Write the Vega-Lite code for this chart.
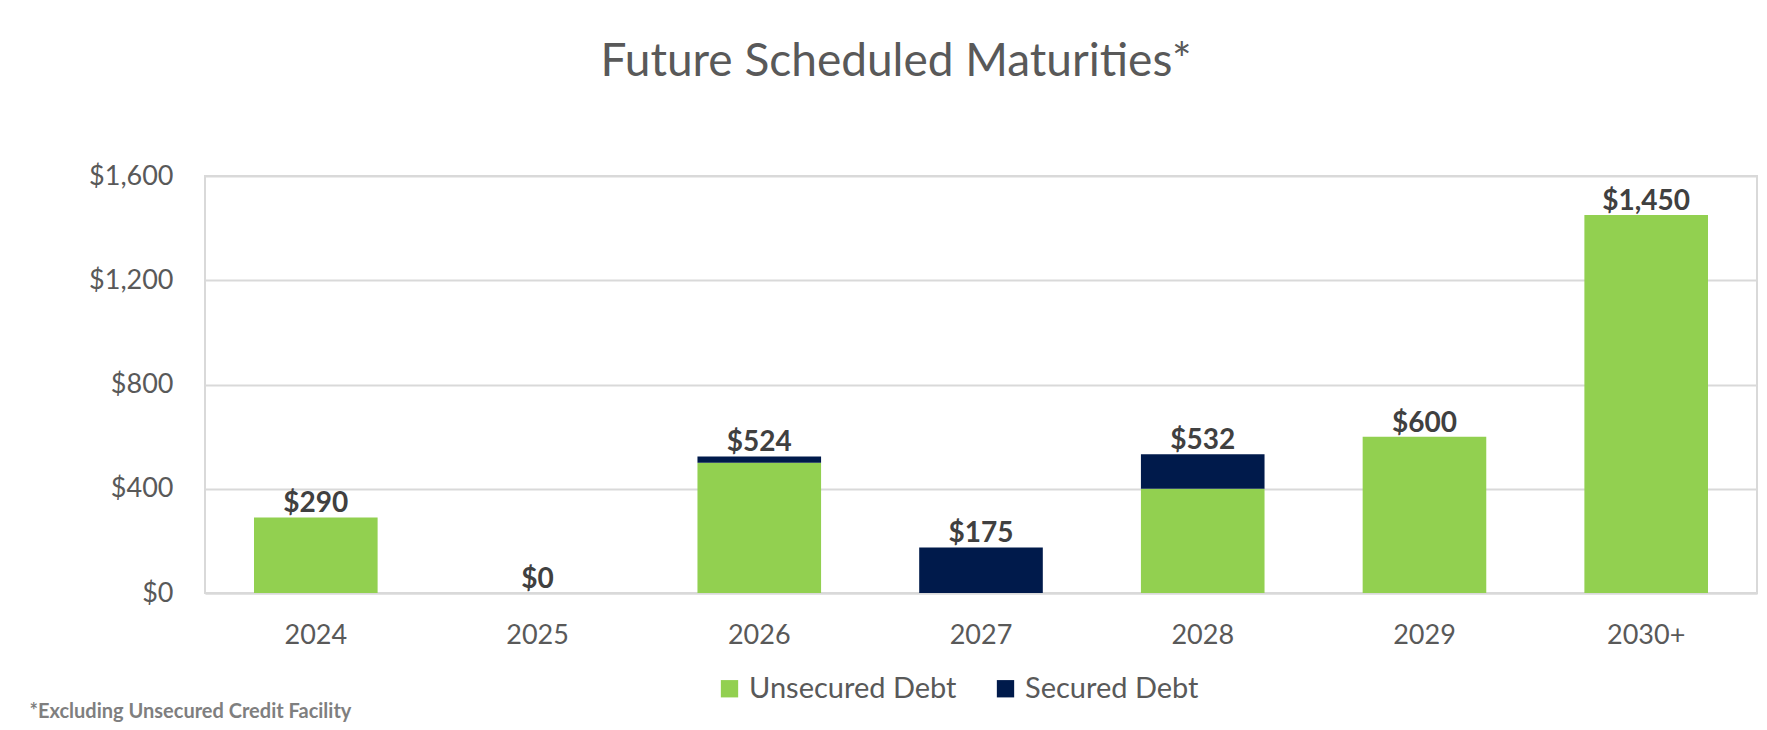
{
  "$schema": "https://vega.github.io/schema/vega-lite/v6.json",
  "width": 1552,
  "height": 417,
  "autosize": {"type": "none"},
  "padding": {"left": 205, "top": 176, "right": 10, "bottom": 137},
  "background": "white",
  "title": {
    "text": "Future Scheduled Maturities*",
    "font": "Lato",
    "fontSize": 46,
    "fontWeight": "normal",
    "color": "#595959",
    "anchor": "middle",
    "dx": -85,
    "baseline": "alphabetic",
    "offset": 40
  },
  "config": {
    "view": {"stroke": "#D9D9D9", "strokeWidth": 2},
    "font": "Lato"
  },
  "data": {
    "values": [
      {"year": "2024", "type": "Unsecured Debt", "value": 290},
      {"year": "2024", "type": "Secured Debt", "value": 0},
      {"year": "2025", "type": "Unsecured Debt", "value": 0},
      {"year": "2025", "type": "Secured Debt", "value": 0},
      {"year": "2026", "type": "Unsecured Debt", "value": 500},
      {"year": "2026", "type": "Secured Debt", "value": 24},
      {"year": "2027", "type": "Unsecured Debt", "value": 0},
      {"year": "2027", "type": "Secured Debt", "value": 175},
      {"year": "2028", "type": "Unsecured Debt", "value": 400},
      {"year": "2028", "type": "Secured Debt", "value": 132},
      {"year": "2029", "type": "Unsecured Debt", "value": 600},
      {"year": "2029", "type": "Secured Debt", "value": 0},
      {"year": "2030+", "type": "Unsecured Debt", "value": 1450},
      {"year": "2030+", "type": "Secured Debt", "value": 0}
    ]
  },
  "encoding": {
    "x": {
      "field": "year",
      "type": "nominal",
      "sort": null,
      "scale": {"paddingInner": 0.4425, "paddingOuter": 0.221},
      "axis": {
        "title": "*Excluding Unsecured Credit Facility",
        "titleX": -176,
        "titleY": 118,
        "titleAlign": "left",
        "titleAnchor": "start",
        "titleBaseline": "middle",
        "titleFont": "Lato",
        "titleFontSize": 20,
        "titleFontWeight": "bold",
        "titleColor": "#7F7F7F",
        "labelAngle": 0,
        "labelFont": "Lato",
        "labelFontSize": 27,
        "labelColor": "#595959",
        "labelPadding": 29,
        "ticks": false,
        "domainColor": "#D9D9D9",
        "domainWidth": 2
      }
    }
  },
  "layer": [
    {
      "mark": {"type": "bar"},
      "encoding": {
        "y": {
          "field": "value",
          "type": "quantitative",
          "aggregate": "sum",
          "stack": "zero",
          "scale": {"domain": [0, 1600], "nice": false},
          "axis": {
            "title": null,
            "values": [0, 400, 800, 1200, 1600],
            "format": "$,.0f",
            "labelFont": "Lato",
            "labelFontSize": 27,
            "labelColor": "#595959",
            "labelPadding": 32,
            "ticks": false,
            "domain": false,
            "gridColor": "#D9D9D9",
            "gridWidth": 2
          }
        },
        "color": {
          "field": "type",
          "type": "nominal",
          "scale": {"domain": ["Unsecured Debt", "Secured Debt"], "range": ["#92D050", "#001A4B"]},
          "legend": {
            "title": null,
            "orient": "none",
            "direction": "horizontal",
            "legendX": 510,
            "legendY": 498,
            "symbolType": "square",
            "symbolSize": 300,
            "symbolStrokeWidth": 0,
            "labelFont": "Lato",
            "labelFontSize": 29,
            "labelColor": "#595959",
            "labelOffset": 5,
            "labelLimit": 0,
            "columnPadding": 34
          }
        },
        "order": {"field": "type", "sort": "descending"}
      }
    },
    {
      "transform": [
        {"aggregate": [{"op": "sum", "field": "value", "as": "total"}], "groupby": ["year"]}
      ],
      "mark": {"type": "text", "baseline": "alphabetic", "dy": -5, "font": "Lato", "fontSize": 28, "fontWeight": "bold", "color": "#404040"},
      "encoding": {
        "y": {"field": "total", "type": "quantitative"},
        "text": {"field": "total", "type": "quantitative", "format": "$,.0f"}
      }
    }
  ]
}
